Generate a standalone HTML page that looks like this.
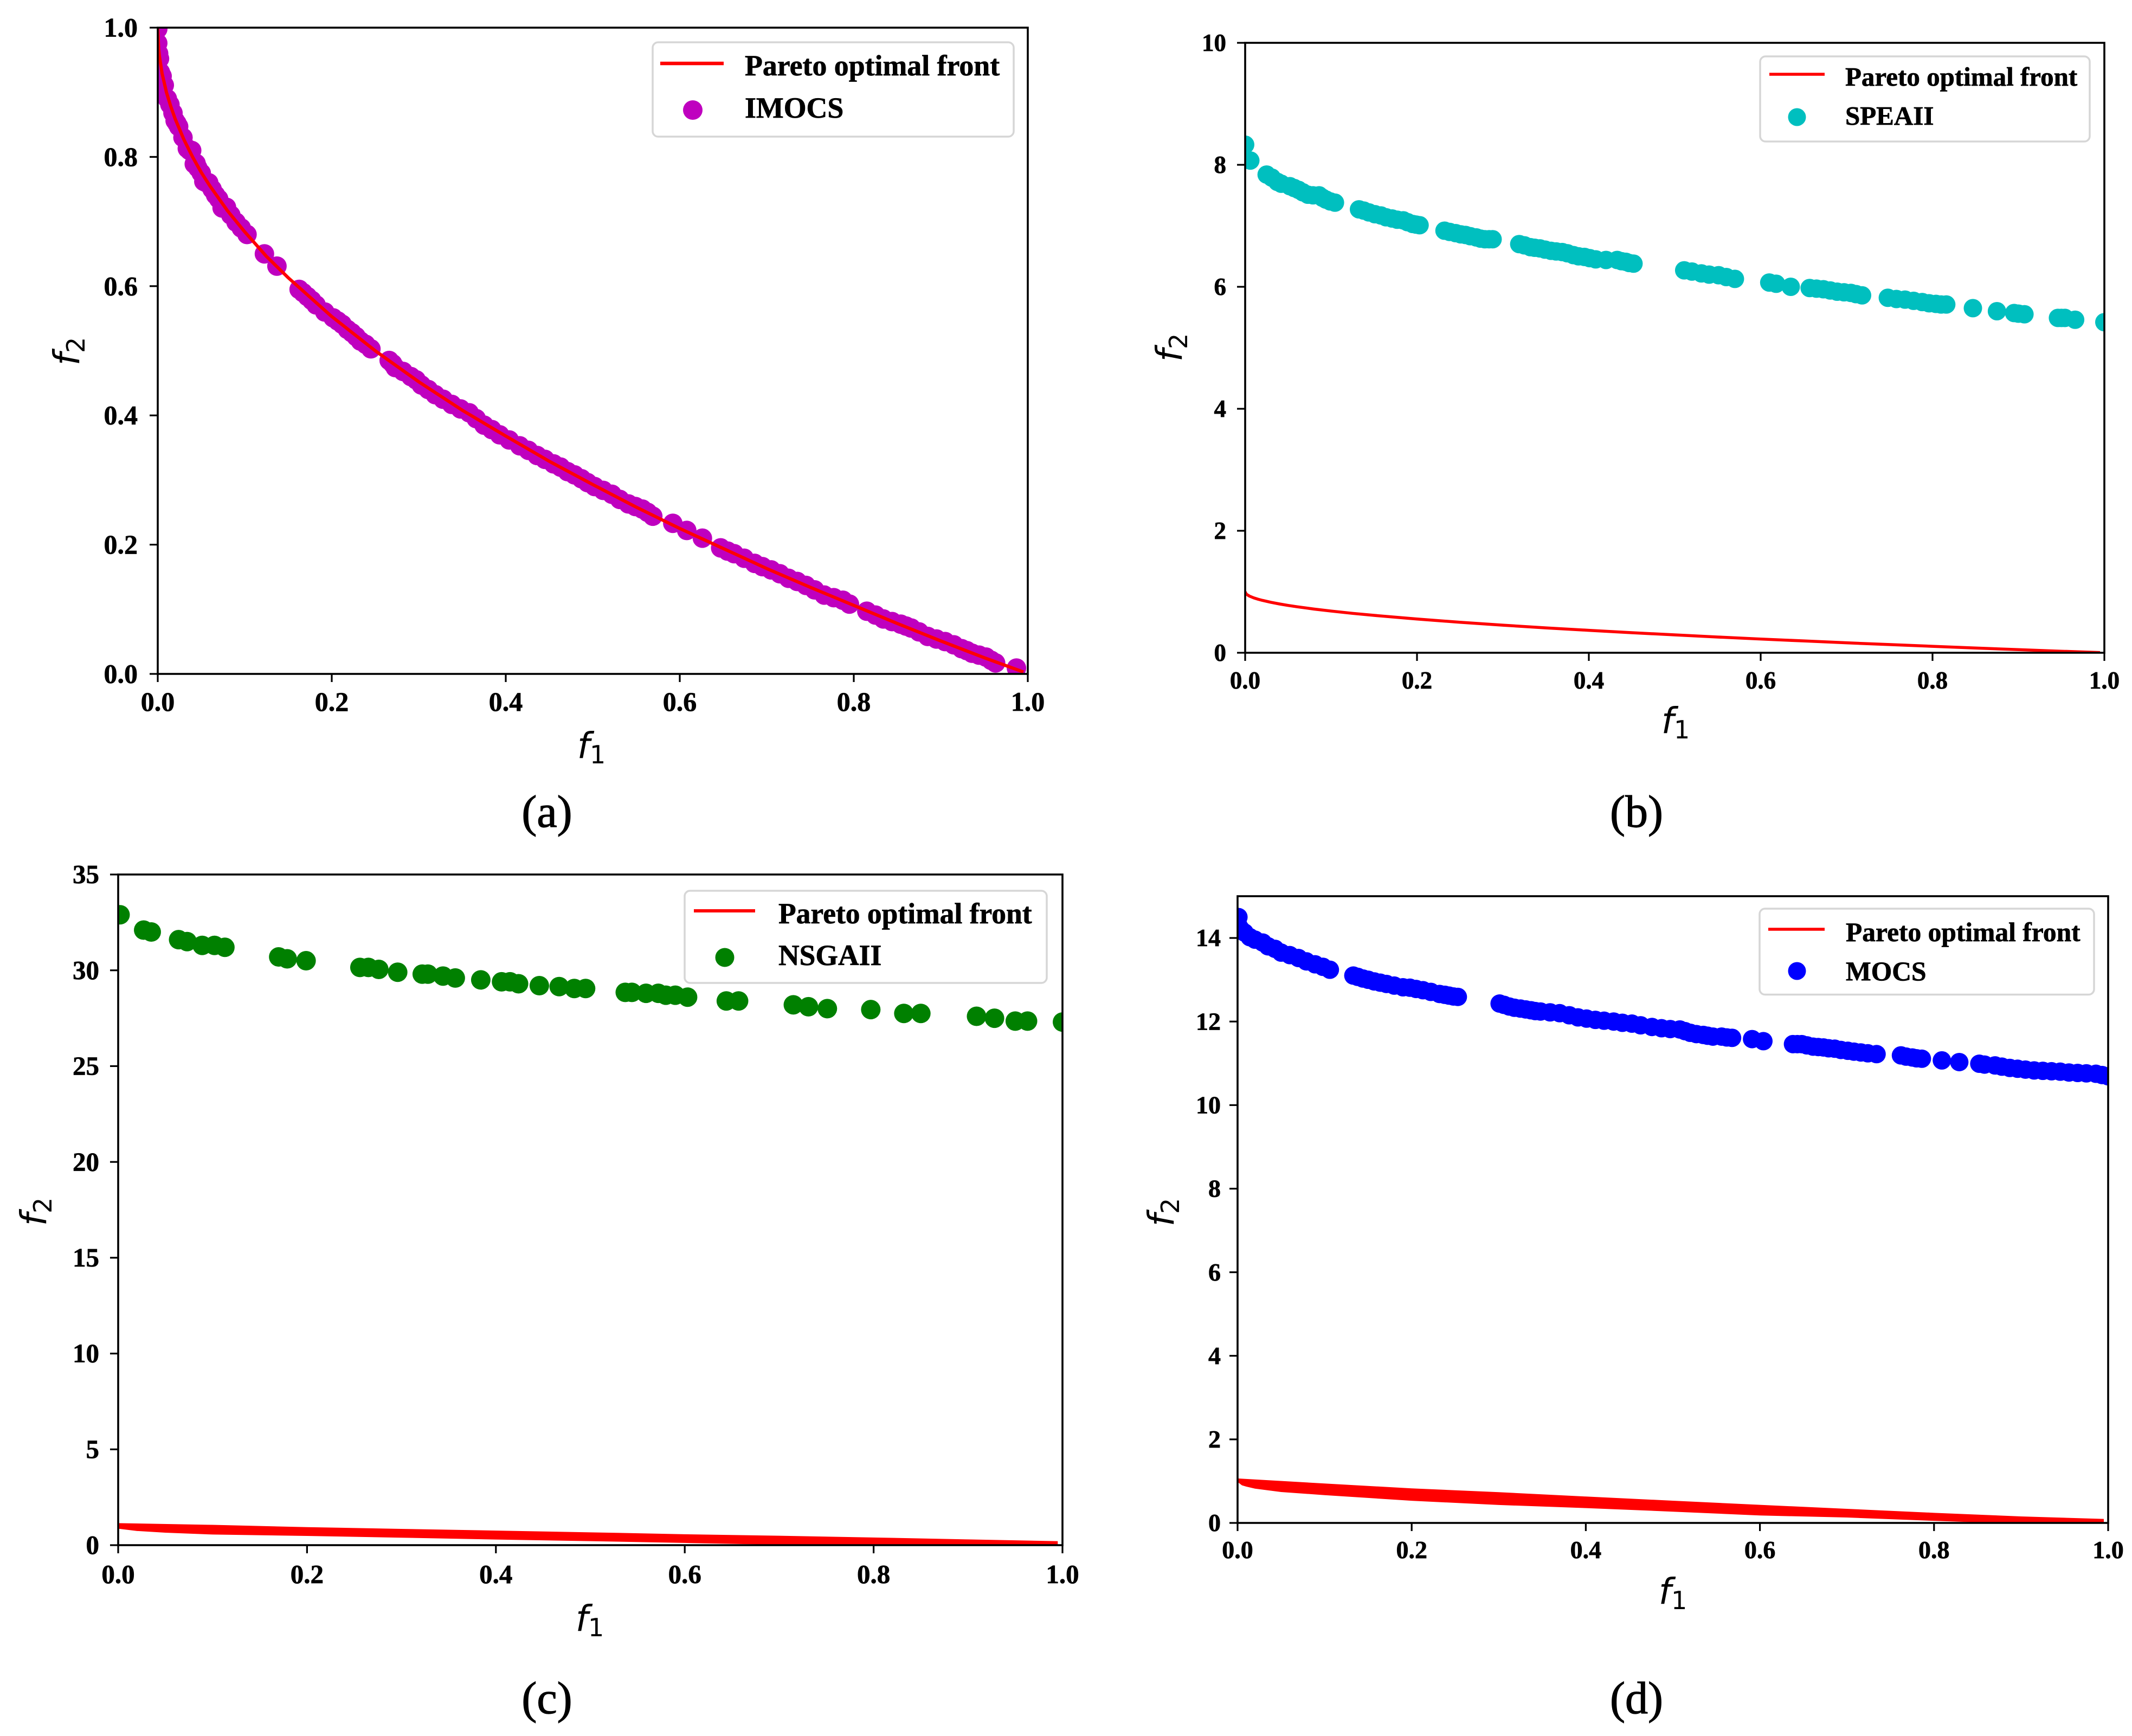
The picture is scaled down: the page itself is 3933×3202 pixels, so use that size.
<!DOCTYPE html>
<html lang="en">
<head>
<meta charset="utf-8">
<title>Pareto front comparison: IMOCS, SPEAII, NSGAII, MOCS</title>
<style>
  html, body { margin: 0; padding: 0; background: #fff; }
  svg { display: block; }
  .serif { font-family: "Liberation Serif", serif; fill: #000; }
  .bold { font-weight: bold; stroke: #000; stroke-width: 0.7px; }
  .caption { stroke: #000; stroke-width: 1.2px; }
  .math { font-family: "DejaVu Sans", sans-serif; font-style: italic; font-size: 66px; fill: #000; }
  .math tspan { font-style: normal; font-size: 46px; }
  .legend-box { fill: #fff; stroke: #d6d6d6; stroke-width: 3.5; }
</style>
</head>
<body>
<svg id="figure" xmlns="http://www.w3.org/2000/svg" width="3933" height="3202" viewBox="0 0 3933 3202">
  <rect x="0" y="0" width="3933" height="3202" fill="#ffffff"/>

  <!-- Panel a -->
  <g id="panel-a">
    <g id="plot-a"></g>
    <g>
      <rect class="legend-box" x="1204" y="78" width="666" height="174" rx="10"/>
      <line x1="1218" y1="117" x2="1335" y2="117" stroke="#ff0000" stroke-width="6.5"/>
      <circle cx="1278" cy="203" r="18" fill="#bf00bf"/>
      <text class="serif bold" x="1374" y="139" font-size="53.8">Pareto optimal front</text>
      <text class="serif bold" x="1374" y="217" font-size="53.8">IMOCS</text>
    </g>
    <text class="math" x="1091" y="1398" text-anchor="middle">f<tspan dy="10">1</tspan></text>
    <text class="math" x="146" y="648" text-anchor="middle" transform="rotate(-90 146 648)">f<tspan dy="10">2</tspan></text>
    <text class="serif caption" x="1009" y="1525" font-size="84" text-anchor="middle">(a)</text>
  </g>

  <!-- Panel b -->
  <g id="panel-b">
    <g id="plot-b"></g>
    <g>
      <rect class="legend-box" x="3247" y="104" width="608" height="157" rx="10"/>
      <line x1="3264" y1="137" x2="3366" y2="137" stroke="#ff0000" stroke-width="5.5"/>
      <circle cx="3315" cy="216" r="16.5" fill="#00bfbf"/>
      <text class="serif bold" x="3404" y="158" font-size="49">Pareto optimal front</text>
      <text class="serif bold" x="3404" y="230" font-size="49">SPEAII</text>
    </g>
    <text class="math" x="3091" y="1352" text-anchor="middle">f<tspan dy="10">1</tspan></text>
    <text class="math" x="2180" y="641" text-anchor="middle" transform="rotate(-90 2180 641)">f<tspan dy="10">2</tspan></text>
    <text class="serif caption" x="3019" y="1525" font-size="84" text-anchor="middle">(b)</text>
  </g>

  <!-- Panel c -->
  <g id="panel-c">
    <g id="plot-c"></g>
    <g>
      <rect class="legend-box" x="1263" y="1643" width="668" height="170" rx="10"/>
      <line x1="1280" y1="1680" x2="1393" y2="1680" stroke="#ff0000" stroke-width="6"/>
      <circle cx="1337" cy="1766" r="17.5" fill="#008000"/>
      <text class="serif bold" x="1436" y="1703" font-size="53.5">Pareto optimal front</text>
      <text class="serif bold" x="1436" y="1780" font-size="53.5">NSGAII</text>
    </g>
    <text class="math" x="1088" y="3008" text-anchor="middle">f<tspan dy="10">1</tspan></text>
    <text class="math" x="85" y="2235" text-anchor="middle" transform="rotate(-90 85 2235)">f<tspan dy="10">2</tspan></text>
    <text class="serif caption" x="1009" y="3160" font-size="84" text-anchor="middle">(c)</text>
  </g>

  <!-- Panel d -->
  <g id="panel-d">
    <g id="plot-d"></g>
    <g>
      <rect class="legend-box" x="3246" y="1676" width="617" height="158.5" rx="10"/>
      <line x1="3262" y1="1714" x2="3366" y2="1714" stroke="#ff0000" stroke-width="5.5"/>
      <circle cx="3315" cy="1791" r="16.5" fill="#0000ff"/>
      <text class="serif bold" x="3405" y="1736" font-size="49.5">Pareto optimal front</text>
      <text class="serif bold" x="3405" y="1808" font-size="49.5">MOCS</text>
    </g>
    <text class="math" x="3086" y="2958" text-anchor="middle">f<tspan dy="10">1</tspan></text>
    <text class="math" x="2165" y="2236" text-anchor="middle" transform="rotate(-90 2165 2236)">f<tspan dy="10">2</tspan></text>
    <text class="serif caption" x="3019" y="3160" font-size="84" text-anchor="middle">(d)</text>
  </g>
</svg>

<script>
// ---------- tick values ----------
const xTickValues = [0, 0.2, 0.4, 0.6, 0.8, 1];
const xTickLabels = ['0.0', '0.2', '0.4', '0.6', '0.8', '1.0'];
const yTicksA = [0, 0.2, 0.4, 0.6, 0.8, 1];
const yTickLabelsA = ['0.0', '0.2', '0.4', '0.6', '0.8', '1.0'];
const yTicksB = [0, 2, 4, 6, 8, 10];
const yTickLabelsB = ['0', '2', '4', '6', '8', '10'];
const yTicksC = [0, 5, 10, 15, 20, 25, 30, 35];
const yTickLabelsC = ['0', '5', '10', '15', '20', '25', '30', '35'];
const yTicksD = [0, 2, 4, 6, 8, 10, 12, 14];
const yTickLabelsD = ['0', '2', '4', '6', '8', '10', '12', '14'];

// ---------- Pareto front line (panel a) ----------
const frontF1A = [0, 0.001, 0.002, 0.005, 0.01, 0.015, 0.02, 0.03, 0.04, 0.05, 0.06, 0.08, 0.1, 0.125, 0.15, 0.2, 0.25, 0.3, 0.35, 0.4, 0.45, 0.5, 0.55, 0.6, 0.65, 0.7, 0.75, 0.8, 0.85, 0.9, 0.95, 0.995];
const frontF2A = [1, 0.968, 0.955, 0.929, 0.9, 0.878, 0.859, 0.827, 0.8, 0.776, 0.755, 0.717, 0.684, 0.646, 0.613, 0.553, 0.5, 0.452, 0.408, 0.368, 0.329, 0.293, 0.258, 0.225, 0.194, 0.163, 0.134, 0.106, 0.078, 0.051, 0.025, 0.003];

// ---------- Pareto front line (panel b) ----------
const frontF1B = [0, 0.001, 0.002, 0.005, 0.01, 0.015, 0.02, 0.03, 0.04, 0.05, 0.06, 0.08, 0.1, 0.125, 0.15, 0.2, 0.25, 0.3, 0.35, 0.4, 0.45, 0.5, 0.55, 0.6, 0.65, 0.7, 0.75, 0.8, 0.85, 0.9, 0.95, 0.995];
const frontF2B = [1, 0.968, 0.955, 0.929, 0.9, 0.878, 0.859, 0.827, 0.8, 0.776, 0.755, 0.717, 0.684, 0.646, 0.613, 0.553, 0.5, 0.452, 0.408, 0.368, 0.329, 0.293, 0.258, 0.225, 0.194, 0.163, 0.134, 0.106, 0.078, 0.051, 0.025, 0.003];

// ---------- Pareto front band edges (panels c, d) ----------
const bandUpperF1C = [0, 0.1, 0.2, 0.3, 0.4, 0.5, 0.6, 0.7, 0.8, 0.9, 0.995];
const bandUpperF2C = [1.15, 1.06, 0.94, 0.85, 0.76, 0.67, 0.57, 0.49, 0.40, 0.30, 0.21];
const bandLowerF1C = [0, 0.02, 0.05, 0.1, 0.2, 0.3, 0.4, 0.5, 0.6, 0.7, 0.72, 0.995];
const bandLowerF2C = [0.86, 0.74, 0.65, 0.555, 0.48, 0.39, 0.295, 0.21, 0.115, 0.02, 0, 0];

const bandUpperF1D = [0, 0.1, 0.2, 0.3, 0.4, 0.5, 0.6, 0.7, 0.8, 0.9, 0.995];
const bandUpperF2D = [1.065, 0.944, 0.827, 0.736, 0.632, 0.532, 0.433, 0.338, 0.242, 0.156, 0.095];
const bandLowerF1D = [0, 0.005, 0.01, 0.02, 0.05, 0.1, 0.2, 0.3, 0.4, 0.5, 0.6, 0.7, 0.8, 0.87, 0.995];
const bandLowerF2D = [0.98, 0.90, 0.87, 0.82, 0.74, 0.665, 0.53, 0.43, 0.355, 0.27, 0.178, 0.13, 0.05, 0, 0];

// ---------- IMOCS ----------
const imocsF1 = [0, 0, 0.001, 0.002, 0.003, 0.001, 0.0075, 0.014, 0.02, 0.024, 0.034, 0.039, 0.042, 0.046, 0.053, 0.0586, 0.0665, 0.074, 0.079, 0.09, 0.1026, 0.1226, 0.137, 0.1625, 0.172, 0.182, 0.2016, 0.212, 0.223, 0.233, 0.245, 0.266, 0.273, 0.291, 0.303, 0.319, 0.338, 0.358, 0.375, 0.393, 0.416, 0.436, 0.455, 0.471, 0.487, 0.502, 0.522, 0.541, 0.557, 0.569, 0.592, 0.608, 0.626, 0.647, 0.6625, 0.686, 0.705, 0.725, 0.745, 0.766, 0.7875, 0.815, 0.834, 0.854, 0.866, 0.885, 0.905, 0.924, 0.936, 0.952, 0.963, 0.987,
  0, 0.005, 0.011, 0.0175, 0.022, 0.029, 0.0365, 0.044, 0.05, 0.056, 0.0625, 0.07, 0.084, 0.096, 0.167, 0.177, 0.192, 0.207, 0.218, 0.228, 0.239, 0.27, 0.282, 0.297, 0.311, 0.328, 0.348, 0.366, 0.384, 0.404, 0.426, 0.445, 0.463, 0.479, 0.494, 0.512, 0.531, 0.549, 0.563, 0.655, 0.674, 0.695, 0.715, 0.735, 0.755, 0.777, 0.795, 0.825, 0.844, 0.86, 0.875, 0.895, 0.915, 0.93, 0.944, 0.958];
const imocsF2 = [0.998, 0.976, 0.96, 0.952, 0.931, 0.91, 0.911, 0.881, 0.856, 0.847, 0.813, 0.81, 0.789, 0.783, 0.762, 0.76, 0.741, 0.721, 0.722, 0.699, 0.68, 0.65, 0.631, 0.595, 0.584, 0.571, 0.551, 0.541, 0.528, 0.515, 0.503, 0.485, 0.474, 0.46, 0.447, 0.432, 0.417, 0.404, 0.385, 0.37, 0.353, 0.338, 0.325, 0.313, 0.302, 0.29, 0.278, 0.263, 0.255, 0.244, 0.233, 0.222, 0.21, 0.195, 0.186, 0.171, 0.161, 0.148, 0.137, 0.122, 0.114, 0.097, 0.085, 0.077, 0.071, 0.058, 0.05, 0.039, 0.032, 0.026, 0.017, 0.009,
  0.93, 0.925, 0.89, 0.868, 0.852, 0.83, 0.81, 0.79, 0.775, 0.76, 0.75, 0.735, 0.71, 0.69, 0.59, 0.578, 0.56, 0.546, 0.533, 0.522, 0.51, 0.48, 0.468, 0.455, 0.44, 0.425, 0.41, 0.395, 0.378, 0.362, 0.346, 0.332, 0.32, 0.308, 0.296, 0.284, 0.27, 0.259, 0.25, 0.19, 0.179, 0.166, 0.155, 0.143, 0.13, 0.118, 0.108, 0.091, 0.081, 0.074, 0.065, 0.054, 0.045, 0.036, 0.029, 0.021];

// ---------- SPEAII ----------
const speaF1 = [0, 0.006, 0.025, 0.031, 0.0375, 0.052, 0.062, 0.073, 0.086, 0.094, 0.1045, 0.1325, 0.144, 0.158, 0.171, 0.184, 0.195, 0.203, 0.232, 0.245, 0.2565, 0.269, 0.279, 0.288, 0.319, 0.332, 0.343, 0.356, 0.369, 0.382, 0.395, 0.408, 0.433, 0.443, 0.452, 0.511, 0.531, 0.551, 0.57, 0.61, 0.618, 0.635, 0.657, 0.673, 0.689, 0.705, 0.718, 0.748, 0.768, 0.788, 0.804, 0.816, 0.847, 0.875, 0.895, 0.907, 0.946, 0.954, 0.966, 1,
  0.042, 0.057, 0.067, 0.079, 0.09, 0.099, 0.138, 0.151, 0.164, 0.177, 0.189, 0.199, 0.238, 0.251, 0.262, 0.274, 0.284, 0.325, 0.337, 0.349, 0.362, 0.375, 0.388, 0.401, 0.42, 0.438, 0.447, 0.52, 0.54, 0.56, 0.665, 0.681, 0.697, 0.711, 0.758, 0.778, 0.796, 0.81, 0.9, 0.95];
const speaF2 = [8.33, 8.07, 7.84, 7.79, 7.72, 7.65, 7.59, 7.51, 7.5, 7.43, 7.38, 7.27, 7.22, 7.17, 7.12, 7.09, 7.03, 7.01, 6.92, 6.88, 6.85, 6.81, 6.78, 6.78, 6.7, 6.65, 6.63, 6.59, 6.57, 6.52, 6.49, 6.45, 6.44, 6.41, 6.38, 6.27, 6.22, 6.19, 6.13, 6.07, 6.05, 6, 5.98, 5.96, 5.92, 5.9, 5.86, 5.82, 5.79, 5.75, 5.72, 5.71, 5.65, 5.6, 5.57, 5.55, 5.49, 5.49, 5.46, 5.42,
  7.69, 7.62, 7.55, 7.5, 7.46, 7.4, 7.25, 7.19, 7.14, 7.1, 7.06, 7.02, 6.9, 6.86, 6.83, 6.79, 6.78, 6.68, 6.64, 6.61, 6.58, 6.55, 6.5, 6.47, 6.44, 6.42, 6.39, 6.25, 6.2, 6.16, 5.97, 5.94, 5.91, 5.88, 5.8, 5.77, 5.73, 5.71, 5.56, 5.49];

// ---------- NSGAII ----------
const nsgaF1 = [0.002, 0.027, 0.035, 0.064, 0.073, 0.089, 0.102, 0.113, 0.17, 0.179, 0.199, 0.256, 0.265, 0.276, 0.296, 0.322, 0.328, 0.344, 0.357, 0.384, 0.406, 0.415, 0.424, 0.446, 0.467, 0.483, 0.495, 0.537, 0.544, 0.559, 0.572, 0.58, 0.59, 0.603, 0.644, 0.657, 0.715, 0.731, 0.751, 0.797, 0.832, 0.85, 0.909, 0.928, 0.95, 0.963, 1];
const nsgaF2 = [32.9, 32.1, 32, 31.6, 31.5, 31.3, 31.3, 31.2, 30.7, 30.6, 30.5, 30.15, 30.15, 30.05, 29.9, 29.8, 29.8, 29.7, 29.6, 29.5, 29.4, 29.4, 29.3, 29.2, 29.15, 29.05, 29.05, 28.85, 28.85, 28.8, 28.8, 28.7, 28.7, 28.6, 28.4, 28.4, 28.2, 28.1, 28, 27.95, 27.75, 27.75, 27.6, 27.5, 27.35, 27.35, 27.3];

// ---------- MOCS ----------
const mocsF1 = [0.001, 0.001, 0.004, 0.008, 0.014, 0.02, 0.029, 0.035, 0.043, 0.05, 0.06, 0.07, 0.079, 0.089, 0.098, 0.106, 0.133, 0.144, 0.157, 0.171, 0.19, 0.198, 0.213, 0.232, 0.243, 0.253, 0.301, 0.312, 0.325, 0.337, 0.348, 0.37, 0.391, 0.411, 0.432, 0.453, 0.476, 0.497, 0.508, 0.52, 0.535, 0.546, 0.556, 0.568, 0.591, 0.604, 0.638, 0.648, 0.661, 0.673, 0.686, 0.701, 0.716, 0.734, 0.762, 0.775, 0.786, 0.809, 0.829, 0.852, 0.87, 0.887, 0.905, 0.925, 0.945, 0.965, 0.986, 1,
  0.138, 0.15, 0.164, 0.18, 0.205, 0.222, 0.238, 0.248, 0.306, 0.318, 0.331, 0.342, 0.359, 0.381, 0.401, 0.421, 0.442, 0.463, 0.487, 0.514, 0.527, 0.54, 0.562, 0.643, 0.654, 0.667, 0.679, 0.693, 0.708, 0.724, 0.768, 0.78, 0.858, 0.878, 0.896, 0.915, 0.935, 0.955, 0.975, 0.993];
const mocsF2 = [14.5, 14.3, 14.2, 14.13, 14.02, 13.96, 13.89, 13.8, 13.74, 13.65, 13.59, 13.52, 13.44, 13.37, 13.31, 13.24, 13.1, 13.03, 12.96, 12.9, 12.82, 12.81, 12.75, 12.66, 12.62, 12.59, 12.43, 12.36, 12.31, 12.27, 12.24, 12.2, 12.1, 12.04, 12, 11.95, 11.87, 11.82, 11.81, 11.73, 11.68, 11.64, 11.64, 11.61, 11.58, 11.53, 11.46, 11.46, 11.4, 11.38, 11.35, 11.3, 11.26, 11.22, 11.19, 11.14, 11.11, 11.07, 11.03, 10.99, 10.95, 10.89, 10.85, 10.82, 10.8, 10.77, 10.75, 10.69,
  13.07, 13, 12.93, 12.86, 12.78, 12.71, 12.64, 12.6, 12.4, 12.33, 12.29, 12.25, 12.22, 12.15, 12.07, 12.02, 11.97, 11.91, 11.84, 11.77, 11.7, 11.66, 11.62, 11.46, 11.43, 11.39, 11.36, 11.32, 11.28, 11.24, 11.16, 11.12, 10.97, 10.92, 10.87, 10.83, 10.81, 10.78, 10.76, 10.72];

// ---------- rendering ----------
const SVG_NS = 'http://www.w3.org/2000/svg';

function make(tag, attrs, parent) {
  const node = document.createElementNS(SVG_NS, tag);
  for (const key in attrs) node.setAttribute(key, attrs[key]);
  parent.appendChild(node);
  return node;
}

function scaleLinear(d0, d1, r0, r1) {
  return function (v) { return r0 + (v - d0) * (r1 - r0) / (d1 - d0); };
}

function drawPanel(cfg) {
  const root = document.getElementById('plot-' + cfg.id);
  const sx = scaleLinear(0, 1, cfg.left, cfg.right);
  const sy = scaleLinear(0, cfg.yMax, cfg.bottom, cfg.top);

  const defs = make('defs', {}, root);
  const clip = make('clipPath', { id: 'clip-' + cfg.id }, defs);
  make('rect', { x: cfg.left, y: cfg.top, width: cfg.right - cfg.left, height: cfg.bottom - cfg.top }, clip);

  const clipped = make('g', { 'clip-path': 'url(#clip-' + cfg.id + ')' }, root);
  
  

  cfg.pointsX.forEach(function (x, i) {
    const dot = make('circle', { cx: sx(x), cy: sy(cfg.pointsY[i]), r: cfg.markerR, fill: cfg.color }, clipped);
    
    
  });

  if (cfg.upperX) {
    const pts = [];
    cfg.upperX.forEach(function (x, i) { pts.push(sx(x) + ',' + sy(cfg.upperY[i])); });
    for (let i = cfg.lowerX.length - 1; i >= 0; i--) pts.push(sx(cfg.lowerX[i]) + ',' + sy(cfg.lowerY[i]));
    const band = make('polygon', { points: pts.join(' '), fill: '#ff0000' }, clipped);
    
    
  } else {
    const pts = cfg.lineX.map(function (x, i) { return sx(x) + ',' + sy(cfg.lineY[i]); });
    const line = make('polyline', { points: pts.join(' '), fill: 'none', stroke: '#ff0000', 'stroke-width': cfg.lineWidth, 'stroke-linejoin': 'round' }, clipped);
    
    
  }

  const frame = make('rect', { x: cfg.left, y: cfg.top, width: cfg.right - cfg.left, height: cfg.bottom - cfg.top, fill: 'none', stroke: '#000', 'stroke-width': 3.6 }, root);
  
  

  xTickValues.forEach(function (v, i) {
    const tick = make('line', { x1: sx(v), x2: sx(v), y1: cfg.bottom, y2: cfg.bottom + 15, stroke: '#000', 'stroke-width': 3.2 }, root);
    
    
    const label = make('text', { x: sx(v), y: cfg.xLabelY, 'text-anchor': 'middle', 'font-size': cfg.tickFont, 'class': 'serif bold' }, root);
    label.textContent = xTickLabels[i];
    
    
  });

  cfg.yTicks.forEach(function (v, i) {
    const tick = make('line', { x1: cfg.left - 15, x2: cfg.left, y1: sy(v), y2: sy(v), stroke: '#000', 'stroke-width': 3.2 }, root);
    
    
    const label = make('text', { x: cfg.yLabelX, y: sy(v) + cfg.tickFont * 0.33, 'text-anchor': 'end', 'font-size': cfg.tickFont, 'class': 'serif bold' }, root);
    label.textContent = cfg.yLabels[i];
    
    
  });
}

drawPanel({ id: 'a', seriesName: 'imocs', left: 291, right: 1896, top: 51, bottom: 1243, yMax: 1,
  yTicks: yTicksA, yLabels: yTickLabelsA, tickFont: 50, xLabelY: 1311, yLabelX: 254,
  color: '#bf00bf', markerR: 18, pointsX: imocsF1, pointsY: imocsF2,
  lineX: frontF1A, lineY: frontF2A, lineWidth: 6 });

drawPanel({ id: 'b', seriesName: 'speaii', left: 2297, right: 3882, top: 79, bottom: 1204, yMax: 10,
  yTicks: yTicksB, yLabels: yTickLabelsB, tickFont: 45, xLabelY: 1270, yLabelX: 2262,
  color: '#00bfbf', markerR: 17, pointsX: speaF1, pointsY: speaF2,
  lineX: frontF1B, lineY: frontF2B, lineWidth: 5.5 });

drawPanel({ id: 'c', seriesName: 'nsgaii', left: 218, right: 1960, top: 1613, bottom: 2850, yMax: 35,
  yTicks: yTicksC, yLabels: yTickLabelsC, tickFont: 49, xLabelY: 2920, yLabelX: 183,
  color: '#008000', markerR: 18, pointsX: nsgaF1, pointsY: nsgaF2,
  upperX: bandUpperF1C, upperY: bandUpperF2C, lowerX: bandLowerF1C, lowerY: bandLowerF2C });

drawPanel({ id: 'd', seriesName: 'mocs', left: 2283, right: 3889, top: 1653, bottom: 2809, yMax: 15,
  yTicks: yTicksD, yLabels: yTickLabelsD, tickFont: 46, xLabelY: 2874, yLabelX: 2252,
  color: '#0000ff', markerR: 17, pointsX: mocsF1, pointsY: mocsF2,
  upperX: bandUpperF1D, upperY: bandUpperF2D, lowerX: bandLowerF1D, lowerY: bandLowerF2D });
</script>
</body>
</html>
